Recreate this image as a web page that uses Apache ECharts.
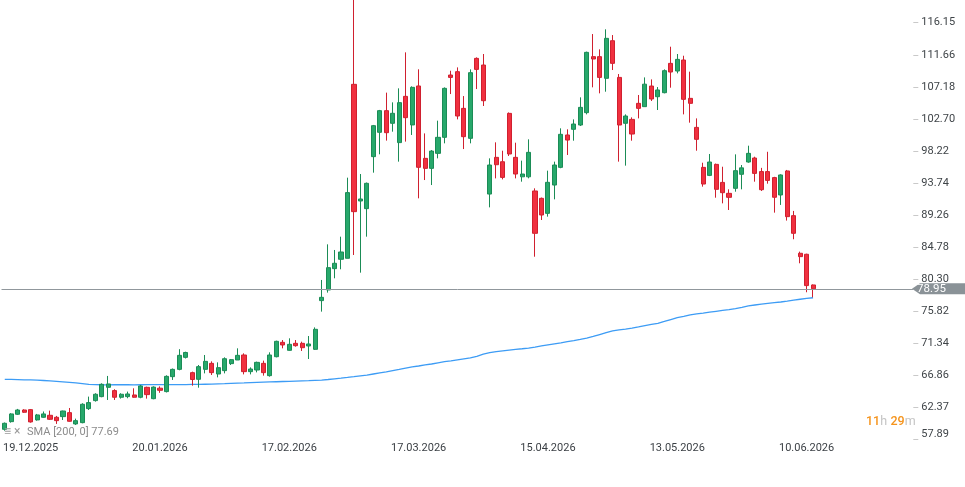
<!DOCTYPE html>
<html>
<head>
<meta charset="utf-8">
<style>
  html, body { margin: 0; padding: 0; background: #ffffff; }
  #chart { width: 965px; height: 487px; }
</style>
<script src="https://cdn.jsdelivr.net/npm/echarts@6/dist/echarts.min.js"></script>
</head>
<body>
<div id="chart"></div>
<script>
// ---- data ----
const dates = [
  '15.12.2025','16.12.2025','17.12.2025','18.12.2025','19.12.2025','22.12.2025','23.12.2025','24.12.2025','26.12.2025','29.12.2025','30.12.2025','31.12.2025',
  '02.01.2026','05.01.2026','06.01.2026','07.01.2026','08.01.2026','09.01.2026','12.01.2026','13.01.2026','14.01.2026','15.01.2026','16.01.2026','19.01.2026','20.01.2026','21.01.2026','22.01.2026','23.01.2026','26.01.2026','27.01.2026','28.01.2026','29.01.2026','30.01.2026',
  '02.02.2026','03.02.2026','04.02.2026','05.02.2026','06.02.2026','09.02.2026','10.02.2026','11.02.2026','12.02.2026','13.02.2026','16.02.2026','17.02.2026','18.02.2026','19.02.2026','20.02.2026','23.02.2026','24.02.2026','25.02.2026','26.02.2026','27.02.2026',
  '02.03.2026','03.03.2026','04.03.2026','05.03.2026','06.03.2026','09.03.2026','10.03.2026','11.03.2026','12.03.2026','13.03.2026','16.03.2026','17.03.2026','18.03.2026','19.03.2026','20.03.2026','23.03.2026','24.03.2026','25.03.2026','26.03.2026','27.03.2026','30.03.2026','31.03.2026',
  '01.04.2026','02.04.2026','06.04.2026','07.04.2026','08.04.2026','09.04.2026','10.04.2026','13.04.2026','14.04.2026','15.04.2026','16.04.2026','17.04.2026','20.04.2026','21.04.2026','22.04.2026','23.04.2026','24.04.2026','27.04.2026','28.04.2026','29.04.2026','30.04.2026',
  '01.05.2026','04.05.2026','05.05.2026','06.05.2026','07.05.2026','08.05.2026','11.05.2026','12.05.2026','13.05.2026','14.05.2026','15.05.2026','18.05.2026','19.05.2026','20.05.2026','21.05.2026','22.05.2026','25.05.2026','26.05.2026','27.05.2026','28.05.2026','29.05.2026',
  '01.06.2026','02.06.2026','03.06.2026','04.06.2026','05.06.2026','08.06.2026','09.06.2026','10.06.2026','11.06.2026'
];

const opens = [
  59.30,60.37,61.40,62.00,62.05,60.61,60.98,61.26,60.98,61.07,61.63,60.05,60.23,62.19,63.31,63.87,65.17,64.71,63.78,63.87,
  64.10,63.78,65.17,63.58,65.05,64.57,66.66,67.68,69.36,67.22,66.29,67.68,68.52,67.03,67.50,68.48,68.99,69.69,67.36,67.59,
  68.52,66.80,69.45,71.46,70.34,71.32,71.32,70.95,70.48,77.29,78.78,81.76,83.07,83.21,107.53,91.22,90.15,97.42,100.82,103.85,
  102.08,99.38,105.85,101.85,107.30,97.18,95.78,97.88,100.12,108.83,109.30,104.17,99.98,111.16,110.23,92.19,97.32,96.71,103.47,97.32,
  94.60,94.60,92.62,91.59,89.49,93.45,95.92,100.45,101.24,101.84,103.57,111.40,111.40,108.37,113.63,108.50,102.08,102.63,104.87,104.41,
  107.29,105.80,106.36,110.46,109.39,110.93,105.57,101.51,95.92,94.80,96.34,93.82,92.29,92.99,94.95,96.67,97.23,95.33,95.33,94.49,
  92.06,95.42,89.17,83.91,83.77,79.48
];
const closes = [
  60.14,61.45,62.00,61.68,60.33,61.31,61.45,60.70,60.51,61.86,60.42,60.51,62.80,63.03,64.20,65.59,65.64,63.78,64.20,64.24,
  63.78,65.36,64.15,65.20,64.75,66.70,67.68,69.64,70.04,66.26,68.06,68.80,67.22,67.92,69.17,69.04,69.64,67.36,67.73,68.66,
  67.22,69.69,71.60,71.09,71.18,70.99,70.71,71.23,73.28,77.75,81.90,82.51,84.09,92.39,89.73,91.50,93.69,101.75,103.85,100.77,
  103.48,104.97,102.87,107.11,95.93,95.78,98.20,100.12,106.97,108.50,103.10,100.21,109.16,109.62,105.24,96.25,96.29,94.52,97.79,94.99,
  94.99,98.02,86.70,89.26,93.83,96.25,100.54,99.74,101.98,104.31,112.00,111.07,108.50,113.96,110.46,101.84,103.10,100.58,104.17,107.55,
  105.48,106.74,109.44,109.25,111.02,105.43,104.87,99.84,93.59,96.67,92.85,92.38,91.73,95.46,95.85,97.88,95.08,92.80,94.10,91.74,
  94.86,89.03,86.70,83.44,79.39,78.95
];
const lows = [
  59.10,60.23,61.30,61.60,60.23,60.51,60.93,60.60,60.05,60.60,60.37,59.91,60.14,62.00,63.17,63.78,63.40,63.40,63.59,63.64,
  63.73,63.64,63.59,63.50,64.40,64.45,66.20,67.55,69.20,65.40,65.12,67.12,66.89,66.56,67.12,68.29,68.99,66.98,66.98,67.26,
  66.80,66.66,69.36,70.62,70.29,70.85,70.25,69.13,70.39,75.75,78.41,80.41,81.67,83.21,83.67,81.20,86.23,95.18,97.75,99.66,
  100.91,96.72,99.52,100.45,91.59,94.15,93.45,97.18,99.28,106.17,102.63,98.48,99.28,106.87,104.50,90.33,94.38,94.24,97.51,94.38,
  93.92,94.39,83.43,88.56,89.03,91.45,95.80,97.65,99.65,101.70,103.33,107.11,106.27,106.50,109.53,96.72,96.16,99.65,102.77,104.41,
  105.20,103.94,106.27,107.06,109.06,103.33,102.17,98.25,93.22,94.70,91.68,90.89,89.96,92.52,92.85,96.57,93.92,92.62,93.64,89.59,
  90.67,88.48,85.87,82.51,78.46,77.76
];
const highs = [
  60.25,61.55,62.15,62.10,62.14,61.45,61.79,61.91,61.17,61.91,62.28,60.79,62.94,63.87,64.34,65.73,66.76,64.90,64.34,64.57,
  65.03,65.50,65.26,65.30,65.30,66.85,67.80,70.50,70.15,67.36,68.29,69.69,68.80,68.66,69.36,69.13,70.62,69.92,67.96,68.76,
  68.90,70.06,71.69,71.78,72.02,71.78,71.55,72.34,73.55,80.18,85.16,84.37,86.23,94.48,121.00,94.99,93.80,101.85,103.95,106.37,
  105.01,106.97,112.00,107.25,109.63,100.67,98.34,102.45,107.10,109.43,109.90,105.89,109.62,111.30,111.77,97.18,99.42,98.25,103.60,99.37,
  96.86,99.84,92.99,91.70,95.46,96.72,101.38,101.24,102.63,105.71,112.10,114.56,112.42,115.22,114.42,108.97,103.33,102.91,106.04,108.50,
  108.22,107.15,109.62,112.79,111.77,111.53,109.30,102.77,96.57,97.79,96.45,96.01,92.85,97.74,96.25,98.95,97.41,95.85,98.10,94.60,
  94.95,95.56,89.83,84.14,83.85,79.55
];
const sma200 = [
  66.29,66.27,66.25,66.22,66.20,66.17,66.12,66.06,66.00,65.94,65.87,65.78,65.68,65.58,65.55,65.53,65.52,65.53,65.54,65.53,
  65.52,65.53,65.54,65.55,65.55,65.54,65.55,65.56,65.56,65.57,65.58,65.60,65.62,65.65,65.68,65.72,65.76,65.79,65.83,65.86,
  65.89,65.92,65.95,65.98,66.01,66.04,66.07,66.10,66.14,66.18,66.26,66.36,66.45,66.55,66.66,66.78,66.88,67.03,67.18,67.33,
  67.50,67.67,67.85,68.02,68.15,68.30,68.43,68.60,68.75,68.88,69.02,69.15,69.28,69.50,69.80,70.02,70.17,70.27,70.37,70.47,
  70.56,70.66,70.80,70.95,71.10,71.25,71.39,71.55,71.70,71.86,72.05,72.28,72.55,72.82,73.05,73.20,73.32,73.45,73.62,73.80,
  73.97,74.12,74.38,74.65,74.92,75.10,75.30,75.43,75.55,75.68,75.80,75.92,76.02,76.18,76.35,76.55,76.68,76.80,76.90,77.00,
  77.10,77.22,77.35,77.48,77.60,77.69
];
const xTickLabels = ['19.12.2025','20.01.2026','17.02.2026','17.03.2026','15.04.2026','13.05.2026','10.06.2026'];
const yTickLabels = ['57.89','62.37','66.86','71.34','75.82','80.30','84.78','89.26','93.74','98.22','102.70','107.18','111.66','116.15'];
const lastPrice = 78.95;
const smaLegend = 'SMA [200, 0] 77.69';

// ---- build ----
const futureSlots = 15;
const categories = dates.concat(Array.from({length: futureSlots}, (_, k) => 'future' + k));
const candleData = opens.map((o, i) => [o, closes[i], lows[i], highs[i]]);
const yTickValues = yTickLabels.map(Number);

const FONT = 'Roboto, "Noto Sans", sans-serif';
const chart = echarts.init(document.getElementById('chart'), null, {renderer: 'canvas'});

chart.setOption({
  animation: false,
  backgroundColor: '#ffffff',
  grid: { left: 1.07, right: 51.7, top: 0, bottom: 47.6, containLabel: false },
  xAxis: {
    type: 'category',
    data: categories,
    boundaryGap: true,
    axisLine: { show: false },
    axisTick: { show: false },
    splitLine: { show: false },
    axisLabel: {
      interval: (idx, val) => xTickLabels.includes(val),
      margin: 3,
      color: '#3a3f44',
      fontSize: 11,
      fontFamily: FONT
    }
  },
  yAxis: {
    type: 'value',
    position: 'right',
    min: 57.888,
    max: 119.32,
    scale: true,
    splitLine: { show: false },
    axisLine: { show: false },
    axisTick: { show: true, length: 5, customValues: yTickValues, lineStyle: { color: '#c9c9c9' } },
    axisLabel: {
      customValues: yTickValues,
      showMinLabel: true,
      margin: 8,
      color: '#3f4448',
      fontSize: 11,
      fontFamily: FONT,
      formatter: (v) => {
        const s = Number(v).toFixed(2);
        return s === yTickLabels[0] ? '{lo|' + s + '}' : s;
      },
      rich: { lo: { fontSize: 11, fontFamily: FONT, color: '#3f4448', padding: [0, 0, 10, 0] } }
    }
  },
  series: [
    {
      name: 'SMA',
      type: 'line',
      data: sma200,
      symbol: 'none',
      z: 2,
      lineStyle: { color: '#3d9cf5', width: 1.3 },
      silent: true
    },
    {
      name: 'price',
      type: 'candlestick',
      data: candleData,
      barWidth: 4.6,
      clip: true,
      z: 3,
      itemStyle: {
        color: '#27a86b',
        color0: '#f0303f',
        borderColor: '#1b8c56',
        borderColor0: '#d0202f',
        borderWidth: 1
      },
      markLine: {
        silent: true,
        symbol: ['none', 'none'],
        label: { show: false },
        lineStyle: { color: '#90979c', width: 1, type: 'solid', opacity: 1 },
        data: [{ yAxis: lastPrice }]
      }
    }
  ]
});

const py = chart.convertToPixel({ yAxisIndex: 0 }, lastPrice);
chart.setOption({
  graphic: [
    {
      type: 'polygon', z: 100,
      shape: { points: [[912, py], [920, py - 5.5], [965, py - 5.5], [965, py + 5.5], [920, py + 5.5]] },
      style: { fill: '#8a9297' }
    },
    {
      type: 'text', z: 101, x: 917, y: py,
      style: { text: String(lastPrice.toFixed(2)), fill: '#ffffff', font: '11.5px ' + FONT, verticalAlign: 'middle', align: 'left' }
    },
    {
      type: 'text', z: 50, x: 4, y: 432,
      style: { text: '≡ ×', fill: '#9a9a9a', font: '12px ' + FONT, verticalAlign: 'middle', align: 'left' }
    },
    {
      type: 'text', z: 50, x: 27, y: 432,
      style: { text: smaLegend, fill: '#8c8c8c', font: '11px ' + FONT, verticalAlign: 'middle', align: 'left' }
    },
    {
      type: 'text', z: 50, x: 866, y: 422,
      style: {
        text: '{o|11}{g|h} {o|29}{g|m}',
        verticalAlign: 'middle', align: 'left',
        rich: {
          o: { fill: '#f5941d', color: '#f5941d', fontSize: 12.5, fontWeight: 500, fontFamily: FONT },
          g: { fill: '#c4c4c4', color: '#c4c4c4', fontSize: 12.5, fontFamily: FONT }
        }
      }
    }
  ]
});
</script>
</body>
</html>
